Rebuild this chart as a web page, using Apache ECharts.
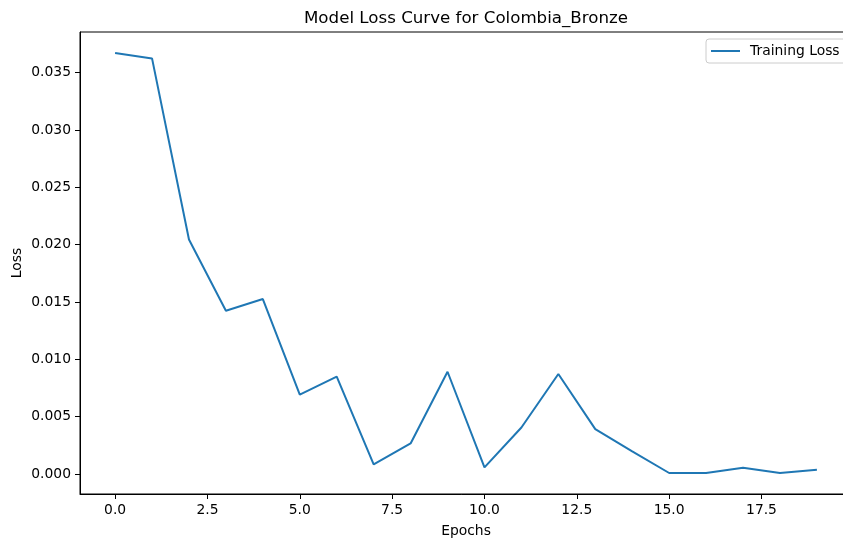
<!DOCTYPE html>
<html>
<head>
<meta charset="utf-8">
<script src="https://cdn.jsdelivr.net/npm/echarts@6/dist/echarts.min.js"></script>
<style>
  html, body { margin: 0; padding: 0; background: #fff; }
  #chart { width: 843px; height: 540px; }
</style>
</head>
<body>
<div id="chart"></div>
<script>
// Training loss recorded per epoch
const epochs = [0, 1, 2, 3, 4, 5, 6, 7, 8, 9, 10, 11, 12, 13, 14, 15, 16, 17, 18, 19];
const trainingLoss = [0.03672, 0.03625, 0.02046, 0.01424, 0.01526, 0.00693, 0.00849, 0.00084,
  0.00267, 0.00892, 0.00058, 0.00406, 0.00872, 0.00392, 0.00197, 0.00009, 0.00009, 0.00055,
  0.00009, 0.00037];

// Tick positions
const xTicks = [0, 2.5, 5, 7.5, 10, 12.5, 15, 17.5];
const yTicks = [0, 0.005, 0.01, 0.015, 0.02, 0.025, 0.03, 0.035];

const titleText = 'Model Loss Curve for Colombia_Bronze';
const seriesName = 'Training Loss';

// 5% padding around the data on both axes
function padded(vals) {
  const lo = Math.min(...vals), hi = Math.max(...vals);
  const m = (hi - lo) * 0.05;
  return [lo - m, hi + m];
}
const [xMin, xMax] = padded(epochs);
const [yMin, yMax] = padded(trainingLoss);

const FONT = 'DejaVu Sans';
const chart = echarts.init(document.getElementById('chart'), null, { renderer: 'canvas' });

chart.setOption({
  animation: false,
  backgroundColor: '#fff',
  grid: {
    left: 80, top: 32, width: 772, height: 462,
    outerBoundsMode: 'none',
    containLabel: false,
    show: true, borderColor: '#000', borderWidth: 1, backgroundColor: 'transparent'
  },
  graphic: [{
    type: 'text',
    x: 466, y: 18.5,
    style: {
      text: titleText,
      font: '16.67px "' + FONT + '"',
      fill: '#000',
      textAlign: 'center',
      textVerticalAlign: 'middle'
    }
  }],
  legend: {
    left: 706, top: 39,
    padding: [5, 8, 5, 5],
    backgroundColor: 'rgba(255,255,255,0.8)',
    borderColor: '#cccccc', borderWidth: 1, borderRadius: 3,
    icon: 'rect', itemWidth: 29, itemHeight: 2,
    textStyle: { fontFamily: FONT, fontSize: 13.89, color: '#000', padding: [0, 0, 0, 5] },
    data: [seriesName]
  },
  xAxis: {
    type: 'value',
    min: xMin, max: xMax,
    name: 'Epochs',
    nameLocation: 'middle',
    nameGap: 30,
    nameMoveOverlap: false,
    nameTextStyle: { fontFamily: FONT, fontSize: 13.89, color: '#000' },
    splitLine: { show: false },
    axisLine: { show: true, onZero: false, lineStyle: { color: '#000', width: 1 } },
    axisTick: { show: true, length: 5, lineStyle: { color: '#000', width: 1 }, customValues: xTicks },
    axisLabel: {
      customValues: xTicks, margin: 9,
      fontFamily: FONT, fontSize: 13.89, color: '#000',
      formatter: v => v.toFixed(1)
    }
  },
  yAxis: {
    type: 'value',
    min: yMin, max: yMax,
    name: 'Loss',
    nameLocation: 'middle',
    nameGap: 56,
    nameMoveOverlap: false,
    nameTextStyle: { fontFamily: FONT, fontSize: 13.89, color: '#000' },
    splitLine: { show: false },
    axisLine: { show: true, onZero: false, lineStyle: { color: '#000', width: 1 } },
    axisTick: { show: true, length: 5, lineStyle: { color: '#000', width: 1 }, customValues: yTicks },
    axisLabel: {
      customValues: yTicks, margin: 9,
      fontFamily: FONT, fontSize: 13.89, color: '#000',
      formatter: v => v.toFixed(3)
    }
  },
  series: [{
    name: seriesName,
    type: 'line',
    data: epochs.map((e, i) => [e, trainingLoss[i]]),
    showSymbol: false,
    symbol: 'none',
    lineStyle: { color: '#1f77b4', width: 2 },
    itemStyle: { color: '#1f77b4' }
  }]
});
</script>
</body>
</html>
